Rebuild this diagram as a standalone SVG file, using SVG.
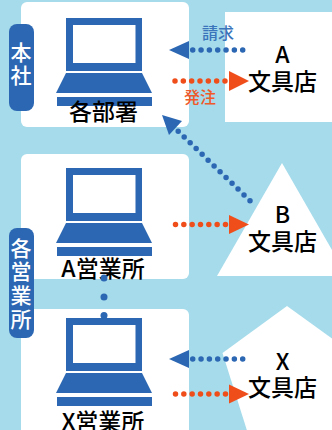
<svg xmlns="http://www.w3.org/2000/svg" width="332" height="430" viewBox="0 0 332 430">
<style>
text{font-family:"Noto Sans CJK JP","Noto Sans",sans-serif;text-anchor:middle}
.card{fill:#fff}
.lbl{font-size:23px;font-weight:500;fill:#000}
.side{fill:#2b67b3}
.sidet{font-size:21px;font-weight:500;fill:#fff}
.dots{fill:none;stroke-width:5.500;stroke-linecap:round;stroke-dasharray:0 8.330}
.b{stroke:#2b67b3}
.o{stroke:#ef4e1b}
.ah{fill:#2b67b3}
.ao{fill:#ef4e1b}
.tag{font-size:16px;font-weight:500}
</style>
<defs>
<g id="pc">
<path fill="#2b67b3" fill-rule="evenodd" d="M66 18H142V71H66ZM73 25V63H135.500V25Z"/>
<path fill="#2b67b3" d="M66 73H142L152 93H56Z"/>
<rect x="57" y="97" width="95" height="9" fill="#2b67b3"/>
</g>
</defs>
<rect width="332" height="430" fill="#a5dbea"/>
<g id="node-honsha">
<rect class="card" x="21" y="2" width="168" height="125" rx="6"/>
<use href="#pc"/>
<text class="lbl" x="103.500" y="120">各部署</text>
</g>
<g id="node-a-office">
<rect class="card" x="21" y="154" width="168" height="125" rx="6"/>
<use href="#pc" y="150"/>
<text class="lbl" x="103" y="277">A営業所</text>
</g>
<g id="node-x-office">
<rect class="card" x="21" y="309" width="168" height="130" rx="6"/>
<use href="#pc" y="300"/>
<text class="lbl" x="103" y="430">X営業所</text>
</g>
<g id="label-honsha">
<rect class="side" x="9" y="24" width="25" height="87" rx="8"/>
<text class="sidet" x="21" y="60">本</text>
<text class="sidet" x="21" y="83">社</text>
</g>
<g id="label-eigyo">
<rect class="side" x="9" y="228" width="25" height="110" rx="8"/>
<text class="sidet" x="21" y="256">各</text>
<text class="sidet" x="21" y="279">営</text>
<text class="sidet" x="21" y="303">業</text>
<text class="sidet" x="21" y="327">所</text>
</g>
<g id="node-shop-a">
<rect class="card" x="225" y="12" width="107" height="110"/>
<text class="lbl" x="282.500" y="63">A</text>
<text class="lbl" x="282.500" y="90">文具店</text>
</g>
<g id="node-shop-b">
<path class="card" d="M282 163L347 276H217Z"/>
<text class="lbl" x="282.500" y="223">B</text>
<text class="lbl" x="282.500" y="250">文具店</text>
</g>
<g id="node-shop-x">
<path class="card" d="M287 306L352 353V440H250L222.500 353Z"/>
<text class="lbl" x="282.500" y="370">X</text>
<text class="lbl" x="282.500" y="396">文具店</text>
</g>
<g id="connectors">
<line class="dots b" x1="242.700" y1="50" x2="191" y2="50"/>
<path class="ah" d="M169 50L189 41V59Z"/>
<line class="dots o" x1="175" y1="81" x2="226.500" y2="81"/>
<path class="ao" d="M229 71L249 81L229 91Z"/>
<line class="dots b" x1="250" y1="200.700" x2="177" y2="130"/>
<path class="ah" d="M162 115L182 121L169 135Z"/>
<line class="dots o" x1="175.500" y1="224.500" x2="227" y2="224.500"/>
<path class="ao" d="M229 215L249 224.500L229 234Z"/>
<line class="dots b" x1="242.700" y1="359" x2="191" y2="359"/>
<path class="ah" d="M169 359L189 350V368Z"/>
<line class="dots o" x1="175.500" y1="394" x2="227" y2="394"/>
<path class="ao" d="M229 384.500L249 394L229 403.500Z"/>
<circle class="ah" cx="104" cy="278" r="3.500"/>
<circle class="ah" cx="104" cy="297" r="3.500"/>
<circle class="ah" cx="104" cy="315.500" r="3.500"/>
<text class="tag" x="218" y="39" fill="#3a74ba">請求</text>
<text class="tag" x="200" y="103" fill="#ef5a2a">発注</text>
</g>
</svg>
